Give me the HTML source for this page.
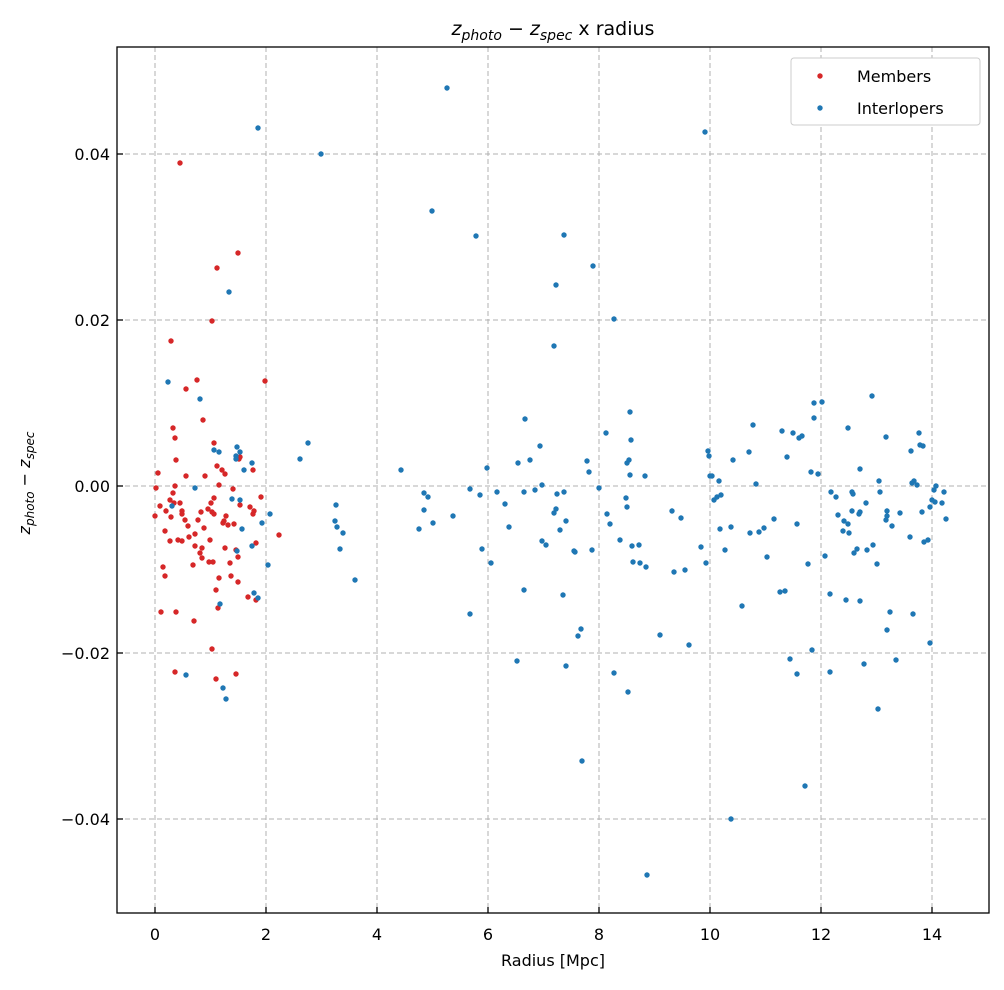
<!DOCTYPE html><html><head><style>body{margin:0;background:#fff}svg text{font-family:"DejaVu Sans","Liberation Sans",sans-serif}</style></head><body>
<svg width="1004" height="985" xmlns="http://www.w3.org/2000/svg">
<rect width="1004" height="985" fill="#fff"/>
<g stroke="#b0b0b0" stroke-width="1" stroke-dasharray="5,3">
<line x1="155" y1="47" x2="155" y2="913"/><line x1="266" y1="47" x2="266" y2="913"/><line x1="377" y1="47" x2="377" y2="913"/><line x1="488" y1="47" x2="488" y2="913"/><line x1="599" y1="47" x2="599" y2="913"/><line x1="710" y1="47" x2="710" y2="913"/><line x1="821" y1="47" x2="821" y2="913"/><line x1="932" y1="47" x2="932" y2="913"/>
<line x1="117" y1="154" x2="989" y2="154"/><line x1="117" y1="320" x2="989" y2="320"/><line x1="117" y1="486" x2="989" y2="486"/><line x1="117" y1="653" x2="989" y2="653"/><line x1="117" y1="819" x2="989" y2="819"/>
</g>
<g id="r" fill="#d62728"></g><g id="b" fill="#1f77b4"></g>
<rect x="117" y="47" width="872" height="866" fill="none" stroke="#000" stroke-width="1.3"/>
<g stroke="#000" stroke-width="1.3">
<line x1="155" y1="913" x2="155" y2="907"/><line x1="266" y1="913" x2="266" y2="907"/><line x1="377" y1="913" x2="377" y2="907"/><line x1="488" y1="913" x2="488" y2="907"/><line x1="599" y1="913" x2="599" y2="907"/><line x1="710" y1="913" x2="710" y2="907"/><line x1="821" y1="913" x2="821" y2="907"/><line x1="932" y1="913" x2="932" y2="907"/>
<line x1="117" y1="154" x2="123" y2="154"/><line x1="117" y1="320" x2="123" y2="320"/><line x1="117" y1="486" x2="123" y2="486"/><line x1="117" y1="653" x2="123" y2="653"/><line x1="117" y1="819" x2="123" y2="819"/>
</g>
<g font-size="16" text-anchor="middle" fill="#000">
<text x="155" y="940">0</text><text x="266" y="940">2</text><text x="377" y="940">4</text><text x="488" y="940">6</text><text x="599" y="940">8</text><text x="710" y="940">10</text><text x="821" y="940">12</text><text x="932" y="940">14</text>
</g>
<g font-size="16" text-anchor="end" fill="#000">
<text x="110" y="160">0.04</text><text x="110" y="326">0.02</text><text x="110" y="492">0.00</text><text x="110" y="659">−0.02</text><text x="110" y="825">−0.04</text>
</g>
<text x="553" y="966" font-size="16" text-anchor="middle">Radius [Mpc]</text>
<text transform="translate(30,483) rotate(-90)" font-size="16" text-anchor="middle"><tspan font-style="italic">z</tspan><tspan font-size="12" font-style="italic" dy="4">photo</tspan><tspan dy="-4"> − </tspan><tspan font-style="italic">z</tspan><tspan font-size="12" font-style="italic" dy="4">spec</tspan></text>
<text x="553" y="35" font-size="19" text-anchor="middle"><tspan font-style="italic">z</tspan><tspan font-size="14" font-style="italic" dy="5">photo</tspan><tspan dy="-5"> − </tspan><tspan font-style="italic">z</tspan><tspan font-size="14" font-style="italic" dy="5">spec</tspan><tspan dy="-5"> x radius</tspan></text>
<rect x="791" y="58" width="189" height="67" rx="3" fill="#fff" stroke="#ccc"/>
<circle cx="820" cy="76" r="2.7" fill="#d62728"/><circle cx="820" cy="108" r="2.7" fill="#1f77b4"/>
<text x="857" y="82" font-size="16">Members</text><text x="857" y="114" font-size="16">Interlopers</text>
</svg>
<script>
var R=[[180,163],[238,253],[217,268],[171,341],[212,321],[265,381],[197,380],[186,389],[173,428],[203,420],[175,438],[176,460],[158,473],[239,459],[186,476],[156,488],[160,506],[155,516],[175,486],[173,493],[170,500],[174,503],[180,503],[182,511],[171,517],[182,514],[178,540],[182,541],[166,511],[163,567],[165,576],[161,612],[176,612],[194,621],[175,672],[212,649],[216,679],[236,674],[279,535],[256,600],[261,497],[253,470],[233,489],[234,524],[240,505],[250,507],[256,543],[238,557],[236,550],[231,576],[238,582],[223,523],[225,548],[217,466],[214,498],[211,503],[208,509],[212,512],[214,514],[210,540],[213,562],[218,608],[216,590],[201,512],[198,520],[204,528],[195,546],[200,553],[202,558],[193,565],[189,537],[188,526],[185,520],[195,534],[165,531],[170,541],[214,443],[205,476],[222,470],[225,474],[219,485],[253,514],[254,511],[240,457],[209,562],[219,578],[224,521],[228,525],[230,563],[248,597],[226,516],[202,548]];
var B=[[258,128],[321,154],[447,88],[432,211],[476,236],[564,235],[705,132],[593,266],[556,285],[614,319],[554,346],[229,292],[168,382],[200,399],[214,450],[219,452],[237,447],[240,452],[236,456],[244,470],[236,459],[252,463],[308,443],[300,459],[401,470],[195,488],[172,506],[232,499],[240,500],[262,523],[270,514],[242,529],[237,551],[252,546],[268,565],[254,593],[258,598],[186,675],[220,604],[223,688],[226,699],[336,505],[337,527],[340,549],[343,533],[355,580],[335,521],[424,493],[428,497],[419,529],[433,523],[424,510],[487,468],[470,489],[480,495],[453,516],[482,549],[491,563],[470,614],[497,492],[505,504],[509,527],[524,492],[518,463],[530,460],[525,419],[540,446],[542,485],[535,490],[557,494],[556,509],[560,530],[564,492],[554,513],[566,521],[563,595],[517,661],[524,590],[542,541],[546,545],[574,551],[566,666],[575,552],[578,636],[581,629],[582,761],[587,461],[589,472],[592,550],[599,488],[606,433],[610,524],[607,514],[620,540],[614,673],[626,498],[627,507],[628,692],[627,463],[630,412],[631,440],[630,475],[629,460],[632,546],[633,562],[640,563],[639,545],[645,476],[646,567],[647,875],[660,635],[672,511],[674,572],[681,518],[685,570],[689,645],[701,547],[708,451],[706,563],[709,456],[710,476],[712,476],[714,500],[719,481],[717,497],[721,495],[720,529],[725,550],[731,527],[733,460],[742,606],[749,452],[750,533],[753,425],[756,484],[759,532],[764,528],[767,557],[774,519],[780,592],[782,431],[785,591],[787,457],[790,659],[793,433],[797,524],[799,438],[802,436],[808,564],[811,472],[812,650],[818,474],[822,402],[825,556],[830,594],[830,672],[814,418],[814,403],[805,786],[731,819],[797,674],[831,492],[836,497],[838,515],[843,531],[844,521],[848,524],[848,428],[846,600],[849,533],[852,511],[852,492],[853,494],[854,553],[857,549],[860,601],[859,514],[860,512],[860,469],[864,664],[866,503],[872,396],[873,545],[877,564],[878,709],[879,481],[880,492],[886,437],[887,516],[887,511],[890,612],[887,630],[892,526],[900,513],[910,537],[911,451],[912,483],[914,481],[919,433],[920,445],[922,512],[923,446],[928,540],[924,542],[930,643],[930,507],[934,490],[932,500],[935,502],[942,503],[944,492],[946,519],[936,486],[917,485],[867,550],[913,614],[896,660],[886,520]];
function p(id,a){var g=document.getElementById(id),s='';a.forEach(function(q){s+='<circle cx="'+q[0]+'" cy="'+q[1]+'" r="2.7"/>';});g.innerHTML=s;}
p('r',R);p('b',B);
</script>
</body></html>
